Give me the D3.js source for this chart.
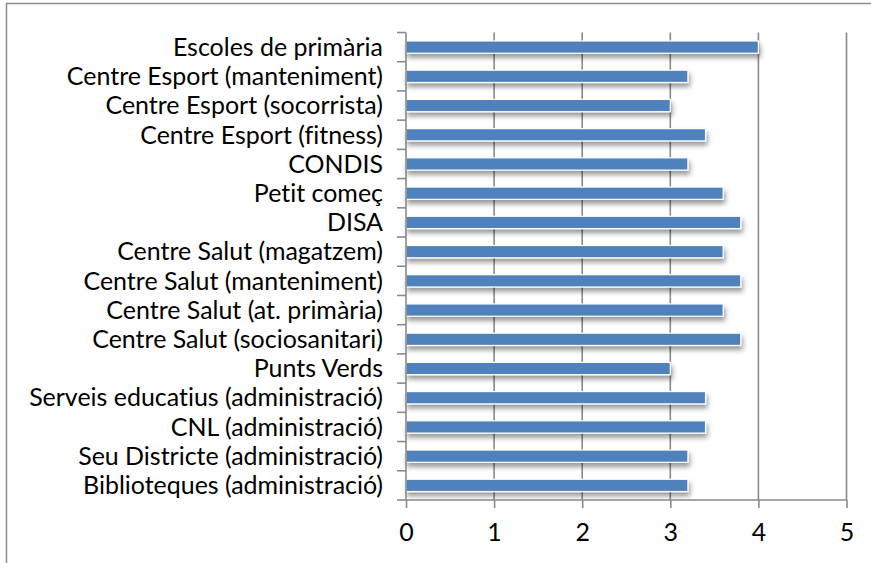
<!DOCTYPE html>
<html>
<head>
<meta charset="utf-8">
<script src="https://cdn.jsdelivr.net/npm/d3@7"></script>
<style>
  html, body { margin: 0; padding: 0; background: #fff; }
  svg { display: block; }
  text { font-variant-ligatures: none; font-feature-settings: "liga" 0, "clig" 0; }
</style>
</head>
<body>
<svg id="chart" width="871" height="563"></svg>
<script>
const categories = [
  "Escoles de primària",
  "Centre Esport (manteniment)",
  "Centre Esport (socorrista)",
  "Centre Esport (fitness)",
  "CONDIS",
  "Petit começ",
  "DISA",
  "Centre Salut (magatzem)",
  "Centre Salut (manteniment)",
  "Centre Salut (at. primària)",
  "Centre Salut (sociosanitari)",
  "Punts Verds",
  "Serveis educatius (administració)",
  "CNL (administració)",
  "Seu Districte (administració)",
  "Biblioteques (administració)"
];
const values = [4.0, 3.2, 3.0, 3.4, 3.2, 3.6, 3.8, 3.6, 3.8, 3.6, 3.8, 3.0, 3.4, 3.4, 3.2, 3.2];
const xTicks = [0, 1, 2, 3, 4, 5];

(function () {
const svg = d3.select("#chart");
const fontFamily = "Lato, 'Open Sans', sans-serif";

// outer border
svg.append("rect")
  .attr("x", 6.5).attr("y", 3.5).attr("width", 900).attr("height", 620)
  .attr("fill", "#fff").attr("stroke", "#8c8c8c").attr("stroke-width", 1.5);

const pLeft = 406, pRight = 846.5, pTop = 32.5, pBottom = 500;
const x = d3.scaleLinear().domain([0, 5]).range([pLeft, pRight]);
const y = d3.scaleBand().domain(categories).range([pTop, pBottom]).paddingInner(0.58).paddingOuter(0.29);

const defs = svg.append("defs");
const f = defs.append("filter").attr("id", "shadow").attr("x", "-5%").attr("y", "-50%").attr("width", "110%").attr("height", "250%");
f.append("feDropShadow").attr("dx", 1.5).attr("dy", 4).attr("stdDeviation", 2.5).attr("flood-color", "#000").attr("flood-opacity", 0.4);

// gridlines
svg.append("g").selectAll("line").data(xTicks.filter(d => d > 0)).join("line")
  .attr("x1", d => x(d)).attr("x2", d => x(d))
  .attr("y1", pTop).attr("y2", pBottom)
  .attr("stroke", "#8a8a8a").attr("stroke-width", 1.6);

// bars
svg.append("g").selectAll("rect").data(categories).join("rect")
  .attr("x", x(0))
  .attr("y", d => y(d))
  .attr("width", (d, i) => x(values[i]) - x(0))
  .attr("height", y.bandwidth())
  .attr("fill", "#4F81BD")
  .attr("stroke", "#ffffff").attr("stroke-width", 1.2)
  .attr("filter", "url(#shadow)");

// x axis
const xAxis = d3.axisBottom(x).tickValues(xTicks).tickSize(8).tickPadding(15).tickFormat(d3.format("d"));
const gx = svg.append("g").attr("transform", `translate(0,${pBottom})`).call(xAxis);
gx.select(".domain").attr("stroke", "#8a8a8a").attr("stroke-width", 1.6).attr("d", `M${pLeft},0H${pRight}`);
gx.selectAll(".tick line").attr("stroke", "#8a8a8a").attr("stroke-width", 1.6);
gx.selectAll(".tick text").attr("fill", "#000").attr("font-family", fontFamily).attr("font-size", 20);

// y axis
const gy = svg.append("g").attr("transform", `translate(${pLeft},0)`);
gy.append("line").attr("x1", 0).attr("x2", 0).attr("y1", pTop).attr("y2", pBottom)
  .attr("stroke", "#8a8a8a").attr("stroke-width", 1.6);
const boundaries = d3.range(categories.length + 1).map(i => pTop + i * (pBottom - pTop) / categories.length);
gy.selectAll("line.tk").data(boundaries).join("line").attr("class", "tk")
  .attr("x1", -9).attr("x2", 0).attr("y1", d => d).attr("y2", d => d)
  .attr("stroke", "#8a8a8a").attr("stroke-width", 1.6);
gy.selectAll("text").data(categories).join("text")
  .attr("x", -23)
  .attr("y", d => y(d) + y.bandwidth() / 2)
  .attr("dy", "0.35em")
  .attr("text-anchor", "end")
  .attr("font-family", fontFamily)
  .attr("font-size", 20)
  .attr("fill", "#000")
  .text(d => d);

// fit label font size so longest label spans ~354px
const longest = gy.selectAll("text").filter(d => d === "Serveis educatius (administració)").node();
const w = longest.getComputedTextLength();
const fs = 20 * 354 / w;
gy.selectAll("text").attr("font-size", fs);
gx.selectAll(".tick text").attr("font-size", fs);
})();
</script>
</body>
</html>
